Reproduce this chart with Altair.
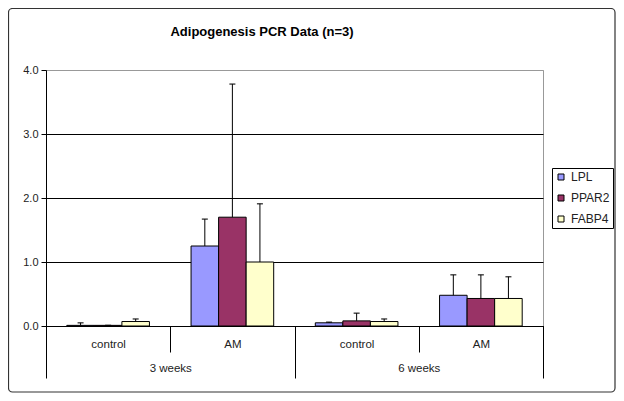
import altair as alt
import pandas as pd

TITLE = "Adipogenesis PCR Data (n=3)"
groups = ["3 weeks", "3 weeks", "6 weeks", "6 weeks"]
treatments = ["control", "AM", "control", "AM"]
genes = ["LPL", "PPAR2", "FABP4"]
lpl = [0.01, 1.25, 0.05, 0.48]
ppar2 = [0.01, 1.70, 0.08, 0.43]
fabp4 = [0.07, 1.00, 0.07, 0.43]
lpl_sd = [0.04, 0.42, 0.01, 0.32]
ppar2_sd = [0.00, 2.08, 0.12, 0.37]
fabp4_sd = [0.04, 0.91, 0.04, 0.34]
colors = ["#9999FF", "#993366", "#FFFFCC"]
y_ticks = [0, 1, 2, 3, 4]

rows = []
for i in range(len(groups)):
    for g, vals, sds in zip(genes, [lpl, ppar2, fabp4], [lpl_sd, ppar2_sd, fabp4_sd]):
        rows.append({
            "cat": groups[i] + "|" + treatments[i],
            "week": groups[i],
            "gene": g,
            "value": vals[i],
            "top": vals[i] + sds[i],
        })
df = pd.DataFrame(rows)
cats = [g + "|" + t for g, t in zip(groups, treatments)]
weeks = ["3 weeks", "6 weeks"]

FONT = "Liberation Sans"
W, H = 497, 256

xscale = alt.Scale(paddingInner=0, paddingOuter=0)
xoff = alt.XOffset("gene:N", sort=genes,
                   scale=alt.Scale(paddingInner=0, paddingOuter=0.755))
yscale = alt.Scale(domain=[0, 4], nice=False)

bars = alt.Chart(df).mark_bar(stroke="black", strokeWidth=1).encode(
    x=alt.X("cat:N", sort=cats, scale=xscale, title=None,
            axis=alt.Axis(orient="bottom", tickBand="extent", tickSize=26,
                          tickColor="black", domainColor="black",
                          labelExpr="split(datum.label, '|')[1]",
                          labelAngle=0, labelPadding=-13.5, labelFont=FONT,
                          labelFontSize=11.5, labelColor="#222", grid=False)),
    xOffset=xoff,
    y=alt.Y("value:Q", scale=yscale, title=None,
            axis=alt.Axis(values=y_ticks, format=".1f", tickSize=5,
                          tickColor="black", domainColor="black",
                          labelFont=FONT, labelFontSize=11, labelColor="#222",
                          labelPadding=3,
                          gridColor={"condition": {"test": "datum.value === 4", "value": "#999999"},
                                     "value": "black"},
                          gridWidth=1)),
    color=alt.Color("gene:N", sort=genes,
                    scale=alt.Scale(domain=genes, range=colors),
                    legend=alt.Legend(title=None, orient="none", legendX=506, legendY=98,
                                      strokeColor="black", padding=3, fillColor="white",
                                      symbolType="square", symbolSize=36,
                                      symbolStrokeColor="black", symbolStrokeWidth=1,
                                      labelFont=FONT, labelFontSize=12, labelColor="#222",
                                      rowPadding=9, labelOffset=4)),
)

err = alt.Chart(df).mark_rule(color="black", strokeWidth=1).encode(
    x=alt.X("cat:N", sort=cats, scale=xscale),
    xOffset=xoff,
    y=alt.Y("value:Q", scale=yscale),
    y2="top:Q",
)

caps = alt.Chart(df).mark_tick(color="black", size=6, thickness=1.5).encode(
    x=alt.X("cat:N", sort=cats, scale=xscale),
    xOffset=xoff,
    y=alt.Y("top:Q", scale=yscale),
)

inner = alt.layer(bars, err, caps)

week_layer = alt.Chart(df).mark_point(opacity=0).encode(
    x=alt.X("week:N", sort=weeks, scale=alt.Scale(paddingInner=0, paddingOuter=0), title=None,
            axis=alt.Axis(orient="bottom", tickBand="extent", tickSize=52,
                          tickColor="black", domainColor="black",
                          labelAngle=0, labelPadding=-15.5, labelFont=FONT,
                          labelFontSize=11.5, labelColor="#222", grid=False)),
    y=alt.Y("value:Q", scale=yscale),
)

one = pd.DataFrame({"t": [TITLE]})
frame = alt.Chart(one).mark_rect(fillOpacity=0, stroke="#333333", strokeWidth=1.2,
                                  cornerRadius=4).encode(
    x=alt.value(-37.5), x2=alt.value(569), y=alt.value(-61.5), y2=alt.value(322)
)
title = alt.Chart(one).mark_text(font=FONT, fontSize=13, fontWeight="bold",
                                  color="black", align="center", baseline="middle").encode(
    x=alt.value(216), y=alt.value(-38), text="t:N"
)

chart = alt.layer(frame, inner, week_layer, title).resolve_scale(x="independent").properties(
    width=W, height=H,
    autosize=alt.AutoSizeParams(type="none"),
    padding={"left": 38, "top": 62, "right": 73, "bottom": 68},
).configure_view(stroke="#999999", strokeWidth=1)

chart.save("out.html", embed_options={"renderer": "svg", "actions": False})
